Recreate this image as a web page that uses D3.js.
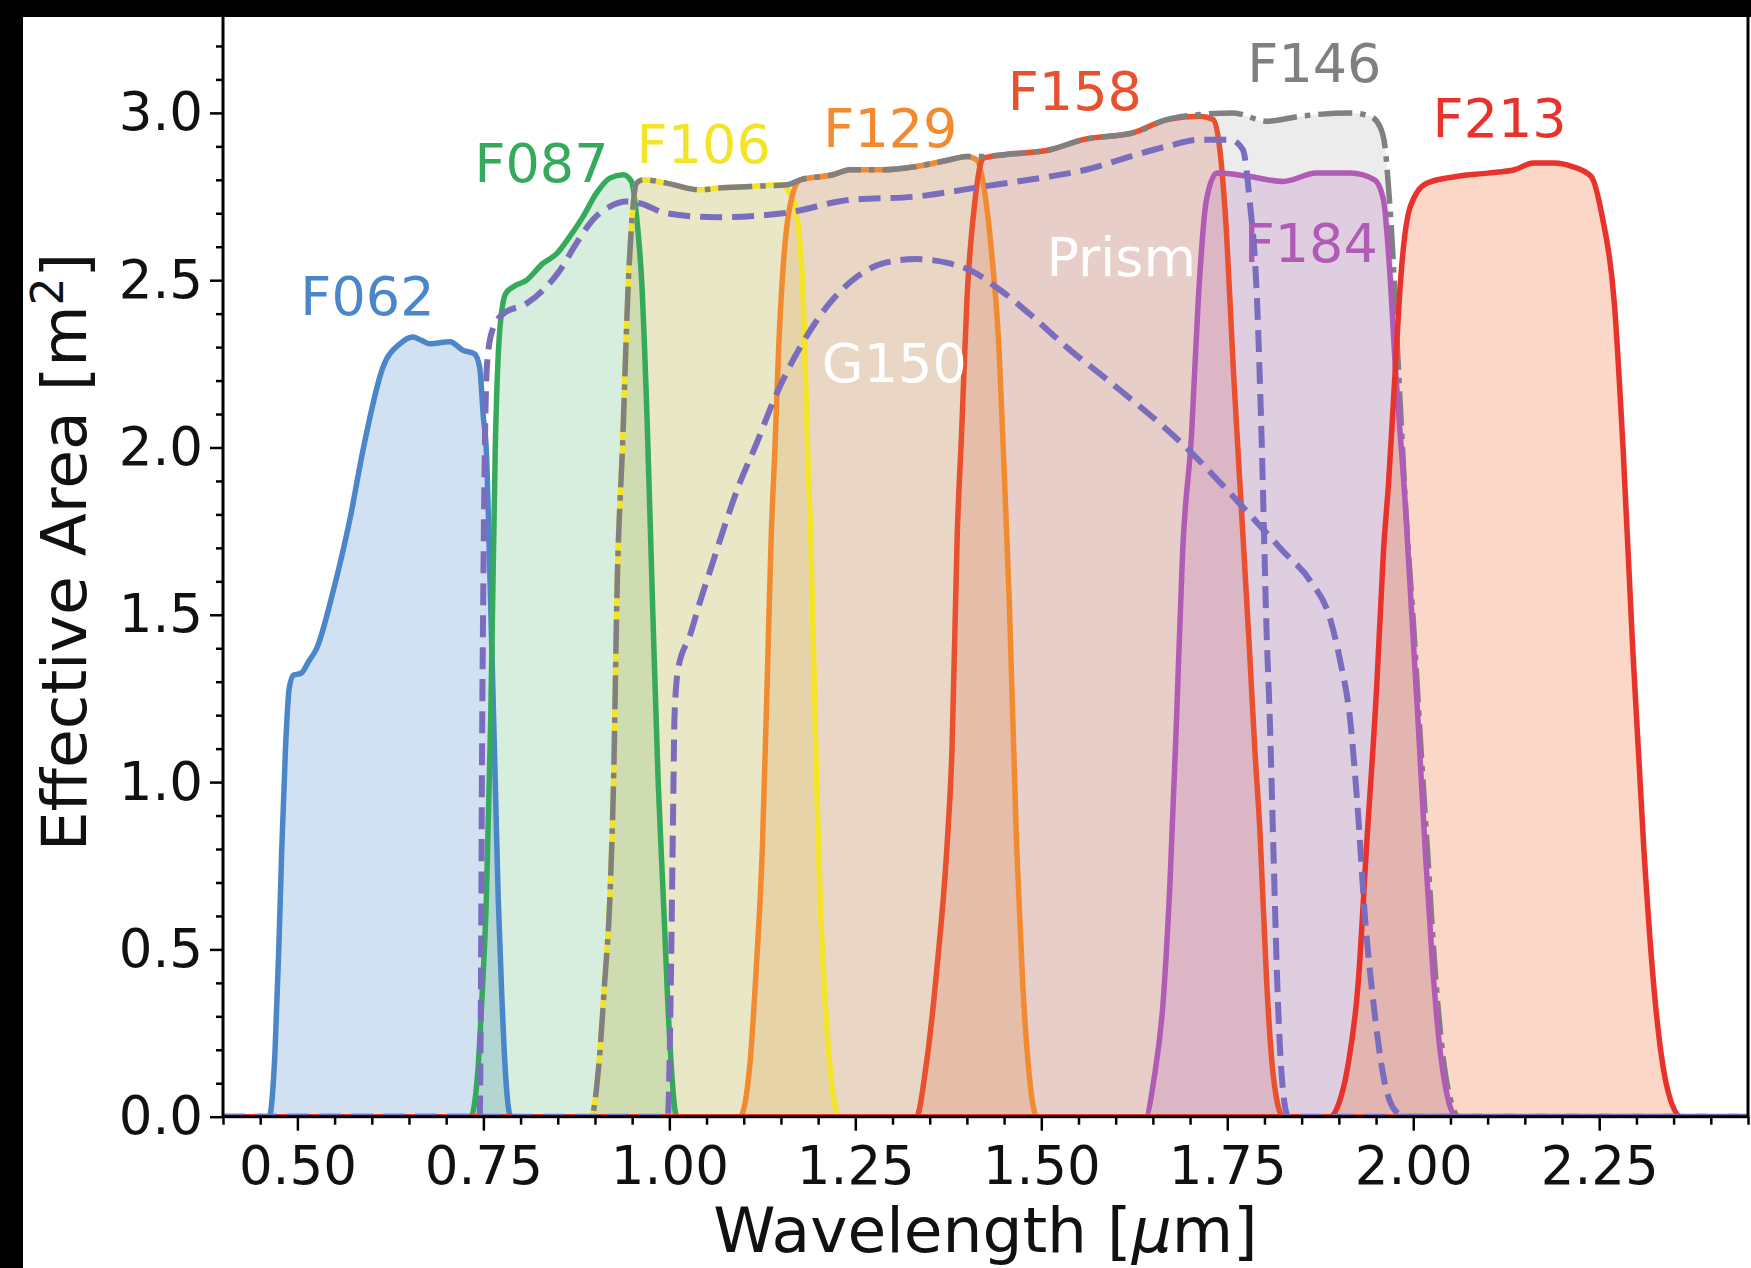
<!DOCTYPE html>
<html lang="en">
<head>
<meta charset="UTF-8">
<title>Effective area per filter</title>
<script src="https://d3js.org/d3.v7.min.js"></script>
<style>
  body { margin: 0; background: #fff; }
  svg text { font-family: "DejaVu Sans", sans-serif; }
</style>
</head>
<body>
<svg id="chart" width="1751" height="1268"></svg>
<script>
// wavelength [um], effective area [m^2]
const f062 = [[0.4,0],[0.462,0],[0.47,0.2],[0.475,0.5],[0.479,0.8],[0.484,1.1],[0.489,1.28],[0.495,1.32],[0.505,1.325],[0.515,1.36],[0.526,1.4],[0.548,1.57],[0.571,1.79],[0.588,1.99],[0.615,2.24],[0.638,2.31],[0.655,2.33],[0.667,2.32],[0.678,2.31],[0.705,2.316],[0.723,2.29],[0.738,2.28],[0.745,2.24],[0.75,2.09],[0.754,1.99],[0.759,1.6],[0.766,1.0],[0.77,0.65],[0.775,0.35],[0.78,0.12],[0.787,0],[2.45,0]];
const f087 = [[0.4,0],[0.733,0],[0.742,0.12],[0.748,0.35],[0.754,0.65],[0.76,1.2],[0.766,2.0],[0.772,2.35],[0.78,2.46],[0.79,2.48],[0.808,2.5],[0.83,2.55],[0.849,2.58],[0.866,2.63],[0.884,2.69],[0.902,2.76],[0.92,2.805],[0.938,2.815],[0.949,2.795],[0.956,2.69],[0.963,2.49],[0.97,2.09],[0.978,1.49],[0.985,1.0],[0.992,0.65],[1.0,0.25],[1.01,0],[2.45,0]];
const f106 = [[0.4,0],[0.895,0],[0.905,0.15],[0.913,0.4],[0.92,0.65],[0.925,1.0],[0.93,1.6],[0.937,2.0],[0.945,2.5],[0.95,2.69],[0.956,2.79],[0.965,2.8],[0.996,2.79],[1.041,2.77],[1.064,2.775],[1.108,2.78],[1.15,2.785],[1.162,2.76],[1.171,2.7],[1.18,2.44],[1.186,1.99],[1.19,1.74],[1.198,1.0],[1.202,0.7],[1.208,0.4],[1.216,0.15],[1.228,0],[2.45,0]];
const f129 = [[0.4,0],[1.095,0],[1.108,0.15],[1.117,0.45],[1.125,0.8],[1.132,1.34],[1.137,1.74],[1.142,2.0],[1.147,2.3],[1.153,2.54],[1.162,2.72],[1.176,2.8],[1.22,2.815],[1.243,2.83],[1.287,2.83],[1.332,2.84],[1.377,2.86],[1.4,2.87],[1.413,2.86],[1.422,2.79],[1.435,2.54],[1.442,2.34],[1.449,1.99],[1.457,1.54],[1.467,0.8],[1.475,0.4],[1.484,0.12],[1.494,0],[2.45,0]];
const f158 = [[0.4,0],[1.332,0],[1.345,0.15],[1.36,0.45],[1.373,0.8],[1.38,1.1],[1.387,1.74],[1.393,2.05],[1.4,2.44],[1.411,2.74],[1.422,2.865],[1.45,2.875],[1.512,2.89],[1.556,2.92],[1.623,2.94],[1.669,2.98],[1.713,2.99],[1.731,2.98],[1.74,2.89],[1.749,2.64],[1.758,2.24],[1.771,1.74],[1.78,1.39],[1.787,1.1],[1.794,0.85],[1.803,0.4],[1.812,0.12],[1.825,0],[2.45,0]];
const f146 = [[0.4,0],[0.895,0],[0.905,0.15],[0.913,0.4],[0.92,0.65],[0.925,1.0],[0.93,1.6],[0.937,2.0],[0.945,2.5],[0.95,2.69],[0.956,2.79],[0.965,2.8],[0.996,2.79],[1.041,2.77],[1.064,2.775],[1.108,2.78],[1.158,2.785],[1.176,2.8],[1.22,2.815],[1.243,2.83],[1.287,2.83],[1.332,2.84],[1.377,2.86],[1.4,2.87],[1.422,2.87],[1.45,2.875],[1.512,2.89],[1.556,2.92],[1.623,2.94],[1.669,2.98],[1.713,2.995],[1.758,3.0],[1.803,2.975],[1.848,2.99],[1.915,3.0],[1.942,2.99],[1.955,2.96],[1.962,2.9],[1.966,2.8],[1.971,2.64],[1.98,2.24],[1.992,1.74],[2.001,1.45],[2.009,1.15],[2.019,0.8],[2.029,0.45],[2.039,0.2],[2.049,0.06],[2.062,0],[2.45,0]];
const f184 = [[0.4,0],[1.64,0],[1.652,0.12],[1.664,0.35],[1.673,0.7],[1.682,1.2],[1.69,1.69],[1.702,2.04],[1.711,2.44],[1.722,2.74],[1.736,2.82],[1.78,2.81],[1.825,2.795],[1.87,2.82],[1.915,2.82],[1.948,2.8],[1.96,2.74],[1.968,2.54],[1.976,2.24],[1.989,1.84],[1.998,1.5],[2.006,1.2],[2.016,0.8],[2.026,0.45],[2.036,0.2],[2.046,0.06],[2.058,0],[2.45,0]];
const f213 = [[0.4,0],[1.888,0],[1.9,0.04],[1.912,0.15],[1.926,0.4],[1.937,0.8],[1.951,1.29],[1.96,1.69],[1.967,1.9],[1.976,2.24],[1.983,2.5],[1.996,2.72],[2.018,2.79],[2.058,2.81],[2.1,2.82],[2.136,2.83],[2.161,2.85],[2.19,2.85],[2.213,2.84],[2.239,2.81],[2.254,2.69],[2.27,2.44],[2.282,2.0],[2.295,1.4],[2.31,0.8],[2.325,0.35],[2.342,0.08],[2.36,0],[2.45,0]];
const prism = [[0.4,0],[0.745,0],[0.747,0.5],[0.748,1.0],[0.75,1.6],[0.752,2.0],[0.755,2.25],[0.762,2.35],[0.777,2.4],[0.808,2.43],[0.83,2.47],[0.853,2.53],[0.875,2.61],[0.897,2.68],[0.92,2.72],[0.943,2.735],[0.96,2.73],[0.996,2.7],[1.064,2.688],[1.153,2.7],[1.243,2.74],[1.332,2.75],[1.422,2.78],[1.512,2.81],[1.56,2.83],[1.62,2.87],[1.669,2.9],[1.713,2.92],[1.754,2.92],[1.771,2.89],[1.78,2.74],[1.79,2.44],[1.796,2.04],[1.803,1.44],[1.807,1.2],[1.812,0.8],[1.818,0.35],[1.824,0.1],[1.832,0],[2.45,0]];
const g150 = [[0.4,0],[0.998,0],[1.002,0.4],[1.005,0.9],[1.007,1.2],[1.012,1.34],[1.028,1.44],[1.04,1.53],[1.056,1.64],[1.075,1.77],[1.094,1.89],[1.115,2.0],[1.144,2.16],[1.176,2.3],[1.215,2.43],[1.252,2.51],[1.287,2.55],[1.332,2.563],[1.377,2.55],[1.404,2.53],[1.445,2.47],[1.489,2.39],[1.534,2.3],[1.59,2.2],[1.69,2.01],[1.78,1.8],[1.825,1.69],[1.862,1.6],[1.888,1.49],[1.902,1.36],[1.915,1.19],[1.926,0.9],[1.935,0.6],[1.946,0.35],[1.96,0.12],[1.975,0.02],[1.99,0],[2.45,0]];

const filterNames = ["F062", "F087", "F106", "F129", "F158", "F146", "F184", "F213"];
const filterCurves = [f062, f087, f106, f129, f158, f146, f184, f213];
const grismNames = ["Prism", "G150"];
const grismCurves = [prism, g150];

const labelNames = ["F062", "F087", "F106", "F129", "F158", "F146", "F213", "F184", "Prism", "G150"];
const labelWave  = [0.504, 0.738, 0.956, 1.207, 1.455, 1.777, 2.026, 1.772, 1.507, 1.205];
const labelArea  = [2.396, 2.793, 2.850, 2.898, 3.009, 3.092, 2.928, 2.554, 2.512, 2.196];

const xTicks = [0.50, 0.75, 1.00, 1.25, 1.50, 1.75, 2.00, 2.25];
const yTicks = [0.0, 0.5, 1.0, 1.5, 2.0, 2.5, 3.0];

// styles
const lineColor = {
  F062: "#4a86c8", F087: "#35aa5a", F106: "#f3e42a", F129: "#f28b30",
  F158: "#e9502e", F146: "#808080", F184: "#b05bb5", F213: "#e8332c",
  Prism: "#7a6dbd", G150: "#7a6dbd"
};
const fillColor = {
  F062: ["#4a86c8", 0.25], F087: ["#35aa5a", 0.2], F106: ["#f3e42a", 0.2],
  F129: ["#f28b30", 0.22], F158: ["#e9502e", 0.2], F146: ["#808080", 0.15],
  F184: ["#b05bb5", 0.2], F213: ["#f07a45", 0.3]
};

const width = 1751, height = 1268;
const svg = d3.select("#chart");
svg.append("rect").attr("width", width).attr("height", height).attr("fill", "#fff");

const x = d3.scaleLinear().domain([0.4, 2.45]).range([223, 1748]);
const y = d3.scaleLinear().domain([0, 3.3]).range([1116.7, 12.5]);

svg.append("clipPath").attr("id", "plot-clip")
  .append("rect")
  .attr("x", x(0.4)).attr("y", y(3.3))
  .attr("width", x(2.45) - x(0.4)).attr("height", y(0) - y(3.3));

const plot = svg.append("g").attr("clip-path", "url(#plot-clip)");

const area = d3.area()
  .x(d => x(d[0])).y0(y(0)).y1(d => y(d[1]))
  .curve(d3.curveMonotoneX);
const line = d3.line()
  .x(d => x(d[0])).y(d => y(d[1]))
  .curve(d3.curveMonotoneX);

// shaded areas first, then outlines
filterCurves.forEach((c, i) => {
  const f = fillColor[filterNames[i]];
  plot.append("path").attr("d", area(c))
    .attr("fill", f[0]).attr("fill-opacity", f[1]);
});

filterCurves.forEach((c, i) => {
  const name = filterNames[i];
  plot.append("path").attr("d", line(c))
    .attr("fill", "none")
    .attr("stroke", lineColor[name])
    .attr("stroke-width", 5.5)
    .attr("stroke-linejoin", "round")
    .attr("stroke-dasharray", name === "F146" ? "34,8,5.5,8" : null);
});

const labels = svg.append("g")
  .attr("font-size", 54);

labelNames.forEach((name, i) => {
  if (name === "Prism" || name === "G150") return;
  labels.append("text")
    .attr("x", x(labelWave[i])).attr("y", y(labelArea[i]))
    .attr("fill", lineColor[name])
    .text(name);
});

// grism / prism dashed on top
const dashed = svg.append("g").attr("clip-path", "url(#plot-clip)");
grismCurves.forEach((c, i) => {
  dashed.append("path").attr("d", line(c))
    .attr("fill", "none")
    .attr("stroke", lineColor[grismNames[i]])
    .attr("stroke-width", 6)
    .attr("stroke-dasharray", "22,10");
});

const white = svg.append("g").attr("font-size", 54);
labelNames.forEach((name, i) => {
  if (name !== "Prism" && name !== "G150") return;
  white.append("text")
    .attr("x", x(labelWave[i])).attr("y", y(labelArea[i]))
    .attr("fill", "#ffffff")
    .text(name);
});

// axes
const xMinor = d3.range(8, 50).map(i => i * 0.05).filter(v => !xTicks.some(t => Math.abs(t - v) < 1e-6));
const yMinor = d3.range(0, 34).map(i => i * 0.1).filter(v => !yTicks.some(t => Math.abs(t - v) < 1e-6));

const gx = svg.append("g").attr("transform", `translate(0,${y(0)})`)
  .call(d3.axisBottom(x).tickValues(xTicks).tickFormat(d3.format(".2f"))
    .tickSize(14).tickPadding(16).tickSizeOuter(0));
const gxm = svg.append("g").attr("transform", `translate(0,${y(0)})`)
  .call(d3.axisBottom(x).tickValues(xMinor).tickFormat("").tickSize(8).tickSizeOuter(0));
const gy = svg.append("g").attr("transform", `translate(${x(0.4)},0)`)
  .call(d3.axisLeft(y).tickValues(yTicks).tickFormat(d3.format(".1f"))
    .tickSize(13).tickPadding(7).tickSizeOuter(0));
const gym = svg.append("g").attr("transform", `translate(${x(0.4)},0)`)
  .call(d3.axisLeft(y).tickValues(yMinor).tickFormat("").tickSize(7).tickSizeOuter(0));

[gx, gxm, gy, gym].forEach(g => {
  g.select(".domain").remove();
  g.selectAll(".tick line").attr("stroke", "#000").attr("stroke-width", 2.5);
  g.selectAll(".tick text").attr("font-size", 53).attr("fill", "#111")
    .attr("font-family", "DejaVu Sans, sans-serif");
});

// spines
svg.append("rect")
  .attr("x", x(0.4)).attr("y", y(3.3))
  .attr("width", x(2.45) - x(0.4)).attr("height", y(0) - y(3.3))
  .attr("fill", "none").attr("stroke", "#000").attr("stroke-width", 3);

// axis titles
svg.append("text")
  .attr("x", (x(0.4) + x(2.45)) / 2).attr("y", 1252)
  .attr("text-anchor", "middle").attr("font-size", 63).attr("fill", "#111")
  .call(t => {
    t.append("tspan").text("Wavelength [");
    t.append("tspan").attr("font-style", "italic").text("\u03bc");
    t.append("tspan").text("m]");
  });

svg.append("text")
  .attr("transform", "translate(86,552) rotate(-90)")
  .attr("text-anchor", "middle").attr("font-size", 63).attr("fill", "#111")
  .call(t => {
    t.append("tspan").text("Effective Area [m");
    t.append("tspan").attr("font-size", 44).attr("dy", -23).text("2");
    t.append("tspan").attr("dy", 23).text("]");
  });

// black border of the scanned figure
svg.append("rect").attr("x", 0).attr("y", 0).attr("width", width).attr("height", 17).attr("fill", "#000");
svg.append("rect").attr("x", 0).attr("y", 0).attr("width", 23).attr("height", height).attr("fill", "#000");
</script>
</body>
</html>
